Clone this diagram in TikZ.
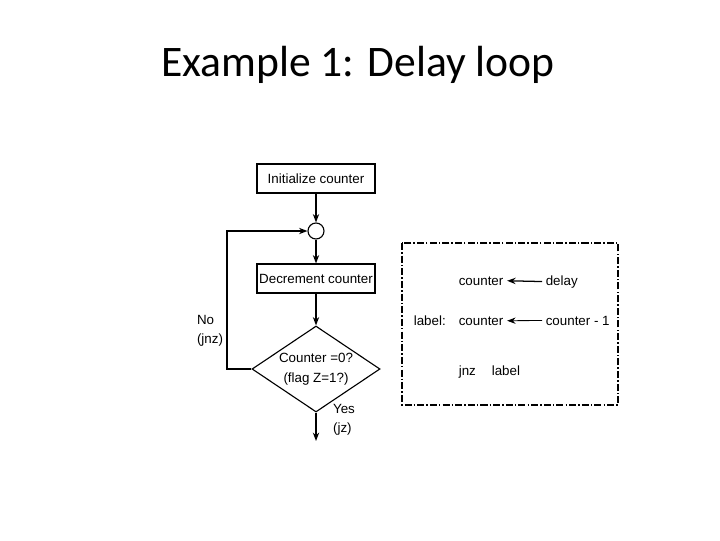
\documentclass[tikz,border=0pt]{standalone}
\usepackage{fontspec}
\setmainfont{Liberation Sans}
\newfontfamily\titlefont{Carlito}
\usetikzlibrary{shapes.geometric, arrows.meta}

\begin{document}
\begin{tikzpicture}[x=0.025cm, y=-0.025cm,
  every node/.style={font=\fontsize{9.5}{11}\selectfont},
  box/.style={draw, line width=0.8pt, minimum width=118*0.025cm, minimum height=29*0.025cm, inner sep=0pt},
  arr/.style={line width=0.9pt, -{Stealth[length=6pt, width=4.5pt]}},
  two/.style={align=left, font=\fontsize{9.5}{13.5}\selectfont},
  code/.style={anchor=base west, inner xsep=2.5pt}]

% frame of the page
\useasboundingbox (0,0) rectangle (720,540);

% title
\node[font=\titlefont\fontsize{31}{36}\selectfont] (title) at (358,65) {Example 1: Delay loop};

% flow chart
\node[box] (init) at (316,178.5) {Initialize counter};
\node[draw, circle, line width=0.8pt, minimum size=16*0.025cm, inner sep=0pt] (join) at (316,231) {};
\node[box] (dec) at (316,278.5) {Decrement counter};
\node[draw, diamond, line width=0.8pt, minimum width=128*0.025cm, minimum height=86*0.025cm,
      inner sep=0pt] (test) at (316,369) {};
\node[align=center, font=\fontsize{9.5}{14}\selectfont] (testtxt) at (316,369) {Counter =0?\\(flag Z=1?)};
\coordinate (loop) at (227,369);
\coordinate (out) at (316,441);

% connectors
\draw[arr] (init) -- (join);
\draw[arr] (join) -- (dec);
\draw[arr] (dec) -- (test);
\draw[arr] (test.west) -- (loop) |- (join.west);
\draw[arr] (test.south) -- (out);

% branch labels
\node[two] (no) at (210,331) {No\\(jnz)};
\node[two] (yes) at (344,420) {Yes\\(jz)};

% code box
\draw[line width=0.8pt, dash pattern=on 5pt off 1.5pt on 1pt off 1.5pt] (402,243) rectangle (618,405);
\node[code] (c1) at (455,285) {counter};
\node[code] (delay) at (542,285) {delay};
\draw[arr] (delay.west) -- (c1.east);
\node[code] (lbl) at (410,325) {label:};
\node[code] (c2) at (455,325) {counter};
\node[code] (cm) at (542,325) {counter - 1};
\draw[arr, line width=0.6pt] (cm.west) -- (c2.east);
\node[code] (jnz) at (455,375) {jnz};
\node[code] (tgt) at (488,375) {label};

\end{tikzpicture}
\end{document}
